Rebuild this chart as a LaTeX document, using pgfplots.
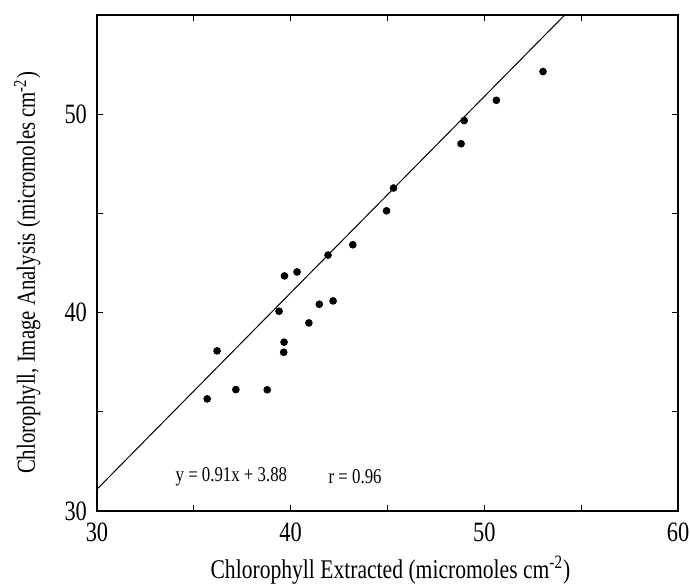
\documentclass[border=0pt]{standalone}
\usepackage{pgfplots}
\pgfplotsset{compat=1.18}
\usepackage{fontspec}
\setmainfont[FakeStretch=0.8]{Liberation Serif}

\begin{document}
\begin{tikzpicture}
\useasboundingbox (-48.5pt,-37.5pt) rectangle (296.5pt,255.5pt);
\begin{axis}[
    scale only axis,
    width=290.5pt, height=248pt,
    xmin=30, xmax=60, ymin=30, ymax=55,
    xtick={30,35,...,60}, xticklabels={30,,40,,50,,60},
    ytick={30,35,...,55}, yticklabels={30,,40,,50,},
    tick align=inside, major tick length=3pt,
    axis line style={line width=0.8pt},
    tick style={line width=0.6pt, black},
    tick label style={font=\fontsize{14}{16}\selectfont},
    xticklabel style={yshift=-2.5pt},
    yticklabel style={xshift=-1.5pt},
    xlabel={Chlorophyll Extracted (micromoles cm\textsuperscript{-2})},
    ylabel={Chlorophyll, Image Analysis (micromoles cm\textsuperscript{-2})},
    xlabel style={font=\fontsize{13.5}{15}\selectfont,
        at={(axis description cs:0.505,-0.119)}, anchor=center},
    ylabel style={font=\fontsize{13}{15}\selectfont,
        at={(axis description cs:-0.12,0.48)}, anchor=center},
    clip=false,
]
% regression line as drawn
\addplot[black, line width=0.5pt] coordinates {(30,31.1) (54.15,55)};
\addplot[only marks, mark=*, mark size=1.7pt, black] coordinates {
    (35.69,35.65) (36.20,38.07) (37.17,36.12) (38.79,36.11)
    (39.40,40.07) (39.64,38.00) (39.66,38.51) (39.68,41.85)
    (40.33,42.05) (40.94,39.48) (41.48,40.42) (41.93,42.90)
    (42.19,40.59) (43.21,43.42) (44.95,45.13) (45.31,46.28)
    (48.80,48.51) (48.96,49.68) (50.62,50.70) (53.03,52.15)
};
\node[font=\fontsize{10.5}{12}\selectfont, anchor=west] at (axis cs:33.7,31.75) {y = 0.91x + 3.88};
\node[font=\fontsize{10.5}{12}\selectfont, anchor=west] at (axis cs:41.6,31.75) {r = 0.96};
\end{axis}
\end{tikzpicture}
\end{document}
